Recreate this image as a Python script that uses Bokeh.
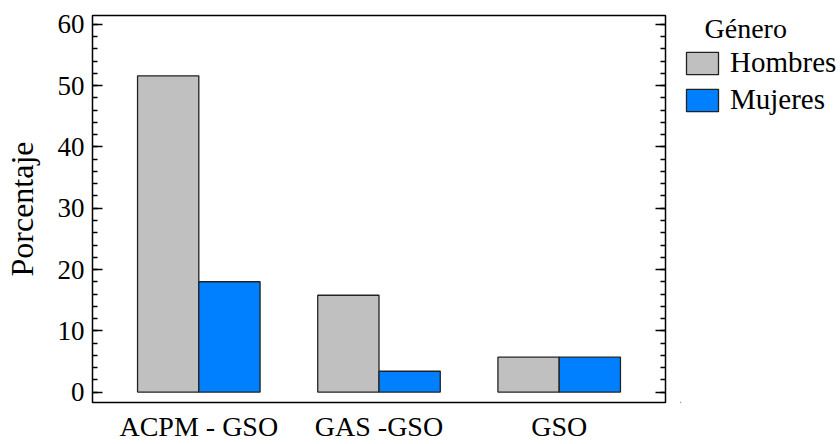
from bokeh.plotting import figure
from bokeh.layouts import row
from bokeh.models import (ColumnDataSource, FactorRange, Range1d, LinearAxis, SingleIntervalTicker,
                          Legend, LegendItem, CustomJSTickFormatter, Label)
from bokeh.transform import dodge
from bokeh.embed import file_html
from bokeh.resources import INLINE

categories = ["ACPM - GSO", "GAS -GSO", "GSO"]
hombres = [51.6, 15.8, 5.7]
mujeres = [18.0, 3.4, 5.7]
series_names = ["Hombres", "Mujeres"]
legend_title = "Género"
y_label = "Porcentaje"
colors = ["#C0C0C0", "#0080FF"]

FONT = "Liberation Serif"

src = ColumnDataSource(dict(cat=categories, hombres=hombres, mujeres=mujeres))

# ---------------- main chart ----------------
p = figure(width=680, height=444, output_backend="svg", toolbar_location=None,
           x_range=FactorRange(*categories, range_padding=0.09, range_padding_units="absolute"),
           y_range=Range1d(-1.7, 61.45),
           min_border_left=92, min_border_top=15,
           min_border_right=15, min_border_bottom=37)
p.background_fill_color = "white"
p.border_fill_color = "white"
p.outline_line_color = "black"
p.outline_line_width = 1.5
p.grid.visible = False

p.vbar(x=dodge("cat", -0.17, range=p.x_range), top="hombres", bottom=0, width=0.34,
       source=src, fill_color=colors[0], line_color="#222222", line_width=1.3)
p.vbar(x=dodge("cat", 0.17, range=p.x_range), top="mujeres", bottom=0, width=0.34,
       source=src, fill_color=colors[1], line_color="#222222", line_width=1.3)

# y axis (left)
ya = p.yaxis[0]
ya.ticker = SingleIntervalTicker(interval=10, num_minor_ticks=5)
ya.axis_line_color = None
ya.major_tick_in = 10
ya.major_tick_out = 0
ya.minor_tick_in = 5
ya.minor_tick_out = 0
ya.major_tick_line_width = 1.5
ya.minor_tick_line_width = 1.5
ya.major_label_text_font = FONT
ya.major_label_text_font_size = "27px"
ya.major_label_text_color = "black"
ya.major_label_standoff = 8
ya.axis_label = y_label
ya.axis_label_text_font = FONT
ya.axis_label_text_font_size = "32px"
ya.axis_label_text_font_style = "normal"
ya.axis_label_text_color = "black"
ya.axis_label_standoff = 15

# right mirrored axis (ticks only)
ra = LinearAxis(ticker=SingleIntervalTicker(interval=10, num_minor_ticks=5),
                formatter=CustomJSTickFormatter(code="return ''"))
ra.axis_line_color = None
ra.major_tick_in = 10
ra.major_tick_out = 0
ra.minor_tick_in = 5
ra.minor_tick_out = 0
ra.major_tick_line_width = 1.5
ra.minor_tick_line_width = 1.5
ra.major_label_text_font_size = "1px"
ra.major_label_standoff = 0
p.add_layout(ra, "right")

# x axis
xa = p.xaxis[0]
xa.axis_line_color = None
xa.major_tick_line_color = None
xa.minor_tick_line_color = None
xa.major_label_text_font = FONT
xa.major_label_text_font_size = "28px"
xa.major_label_text_color = "black"
xa.major_label_standoff = 2

# ---------------- legend panel ----------------
p2 = figure(width=160, height=444, output_backend="svg", toolbar_location=None,
            x_range=Range1d(0, 1), y_range=Range1d(0, 1),
            x_axis_type=None, y_axis_type=None,
            min_border_left=0, min_border_right=0, min_border_top=0, min_border_bottom=0)
p2.outline_line_color = None
p2.grid.visible = False
p2.background_fill_color = "white"
p2.border_fill_color = "white"
# legend swatch proxies: one off-screen row each, only their styles are shown in the legend
proxy = ColumnDataSource(dict(x=[-10.0], top=[-10.0], bottom=[-11.0]))
l1 = p2.vbar(x="x", top="top", bottom="bottom", width=0.34, source=proxy,
             fill_color=colors[0], line_color="#222222", line_width=1.3)
l2 = p2.vbar(x="x", top="top", bottom="bottom", width=0.34, source=proxy,
             fill_color=colors[1], line_color="#222222", line_width=1.3)

legend = Legend(items=[LegendItem(label=series_names[0], renderers=[l1]),
                       LegendItem(label=series_names[1], renderers=[l2])],
                location=(2, 286))
legend.padding = 0
legend.margin = 0
legend.border_line_alpha = 0
legend.background_fill_alpha = 0
legend.glyph_width = 40
legend.glyph_height = 28
legend.label_standoff = 8
legend.spacing = 4
legend.label_text_font = FONT
legend.label_text_font_size = "29px"
legend.label_text_color = "black"
p2.add_layout(legend, "center")

title = Label(x=24, y=374, x_units="screen", y_units="screen", text=legend_title,
              text_font=FONT, text_font_size="28px", text_color="black",
              text_baseline="alphabetic", text_align="left")
p2.add_layout(title)

layout = row(p, p2, spacing=0)
open("out.html", "w").write(file_html(layout, INLINE))
